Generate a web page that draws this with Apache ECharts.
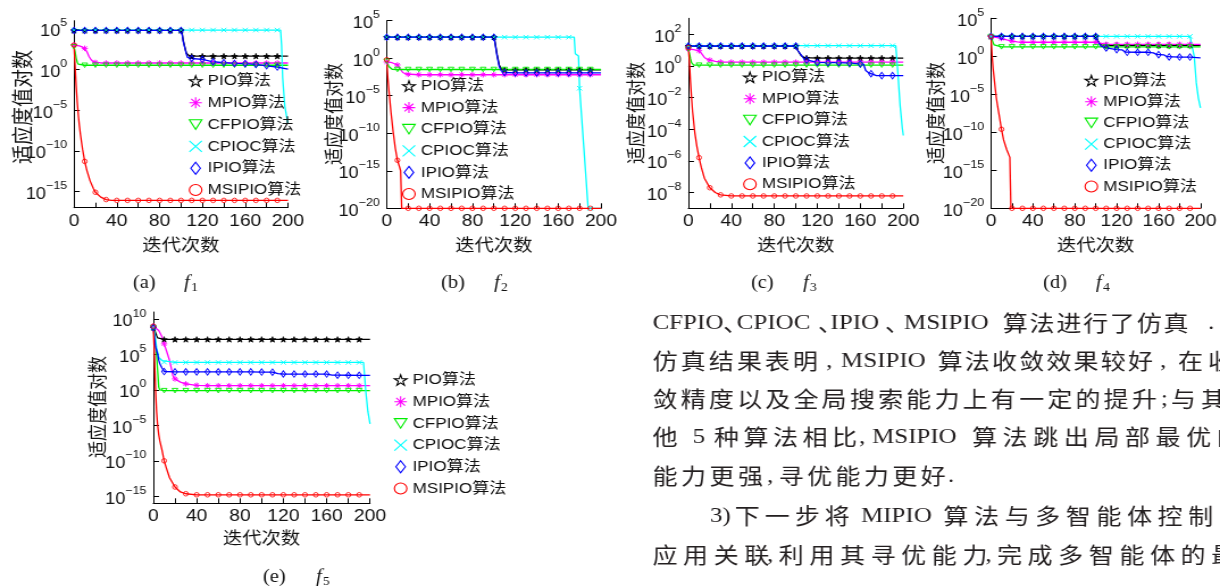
<!DOCTYPE html>
<html><head><meta charset="utf-8">
<script src="https://cdn.jsdelivr.net/npm/echarts@6.0.0/dist/echarts.min.js"></script>
<style>
html,body{margin:0;padding:0;background:#fff;overflow:hidden;width:1220px;height:587px}
#c{width:1074px;height:587px;transform:scaleX(1.13594);transform-origin:0 0}
</style>
</head><body><div id="c"></div>
<script>
// ---------------- data (values are log10 of the fitness) ----------------
const seriesNames = ['PIO算法','MPIO算法','CFPIO算法','CPIOC算法','IPIO算法','MSIPIO算法'];
const xAxisName = '迭代次数';
const yAxisName = '适应度值对数';
const captionLetters = ['(a)','(b)','(c)','(d)','(e)'];
const captionSubs = ['1','2','3','4','5'];

const yTicksA = [5,0,-5,-10,-15];
const yTicksB = [5,0,-5,-10,-15,-20];
const yTicksC = [2,0,-2,-4,-6,-8];
const yTicksD = [5,0,-5,-10,-15,-20];
const yTicksE = [10,5,0,-5,-10,-15];
const yRangeA = [-17,6];
const yRangeB = [-20,5];
const yRangeC = [-9,3];
const yRangeD = [-20,5];
const yRangeE = [-16,11];

// (a) f1
const a_PIO = [[0,4.8],[10,4.8],[20,4.8],[30,4.8],[40,4.8],[50,4.8],[60,4.8],[70,4.8],[80,4.8],[90,4.8],[100,4.8],[101,4.5],[102,3.6],[104,2.5],[105,2.0],[106,1.8],[108,1.65],[110,1.64],[120,1.64],[130,1.64],[140,1.64],[150,1.64],[160,1.64],[170,1.64],[180,1.64],[190,1.64],[200,1.64]];
const a_MPIO = [[0,3.0],[2,3.0],[5,2.9],[8,2.75],[10,2.6],[12,2.2],[14,1.6],[16,1.2],[18,0.95],[20,0.86],[25,0.8],[30,0.8],[40,0.8],[50,0.8],[60,0.8],[70,0.8],[80,0.8],[90,0.8],[100,0.8],[110,0.8],[120,0.8],[130,0.8],[140,0.8],[150,0.8],[160,0.8],[170,0.8],[180,0.8],[190,0.8],[200,0.8]];
const a_CFPIO = [[0,2.8],[1,2.2],[2,1.4],[3,0.9],[4,0.65],[5,0.55],[6,0.52],[10,0.52],[20,0.52],[30,0.52],[40,0.52],[50,0.52],[60,0.52],[70,0.52],[80,0.52],[90,0.52],[100,0.52],[110,0.52],[120,0.52],[130,0.52],[140,0.52],[150,0.52],[160,0.52],[170,0.52],[180,0.52],[190,0.52],[200,0.52]];
const a_CPIOC = [[0,4.85],[10,4.85],[20,4.85],[30,4.85],[40,4.85],[50,4.85],[60,4.85],[70,4.85],[80,4.85],[90,4.85],[100,4.85],[110,4.85],[120,4.85],[130,4.85],[140,4.85],[150,4.85],[160,4.85],[170,4.85],[180,4.85],[190,4.85],[193,4.85],[194,3.0],[195,-1.0],[197,-4.5],[199,-6.0],[200,-6.7]];
const a_IPIO = [[0,4.8],[10,4.8],[20,4.8],[30,4.8],[40,4.8],[50,4.8],[60,4.8],[70,4.8],[80,4.8],[90,4.8],[100,4.8],[101,4.4],[102,3.5],[104,2.4],[105,1.9],[106,1.5],[108,1.38],[110,1.35],[120,1.25],[130,0.95],[140,0.85],[150,0.75],[160,0.72],[170,0.62],[180,0.45],[190,0.3],[200,0.05]];
const a_MSIPIO = [[0,3.0],[1,0.5],[2,-2.0],[3,-4.0],[4,-5.6],[5,-6.9],[6,-8.0],[8,-9.8],[10,-11.3],[12,-12.4],[15,-13.7],[18,-14.6],[20,-15.1],[25,-15.7],[30,-16.0],[35,-16.1],[40,-16.1],[50,-16.1],[60,-16.1],[70,-16.1],[80,-16.1],[90,-16.1],[100,-16.1],[110,-16.1],[120,-16.1],[130,-16.1],[140,-16.1],[150,-16.1],[160,-16.1],[170,-16.1],[180,-16.1],[190,-16.1],[200,-16.1]];

// (b) f2
const b_PIO = [[0,2.8],[10,2.8],[20,2.8],[30,2.8],[40,2.8],[50,2.8],[60,2.8],[70,2.8],[80,2.8],[90,2.8],[100,2.8],[101,2.2],[103,0.5],[105,-0.9],[107,-1.45],[110,-1.55],[120,-1.55],[130,-1.55],[140,-1.55],[150,-1.55],[160,-1.55],[170,-1.55],[180,-1.55],[190,-1.55],[200,-1.55]];
const b_MPIO = [[0,-0.5],[5,-0.6],[10,-0.9],[12,-1.3],[15,-1.9],[18,-2.1],[20,-2.15],[30,-2.2],[40,-2.2],[50,-2.2],[60,-2.2],[70,-2.2],[80,-2.2],[90,-2.2],[100,-2.2],[110,-2.2],[120,-2.2],[130,-2.2],[140,-2.2],[150,-2.2],[160,-2.2],[170,-2.2],[180,-2.2],[190,-2.2],[200,-2.2]];
const b_CFPIO = [[0,-0.4],[1,-0.8],[2,-1.1],[3,-1.3],[5,-1.47],[10,-1.5],[20,-1.5],[30,-1.5],[40,-1.5],[50,-1.5],[60,-1.5],[70,-1.5],[80,-1.5],[90,-1.5],[100,-1.5],[110,-1.5],[120,-1.5],[130,-1.5],[140,-1.5],[150,-1.5],[160,-1.5],[170,-1.5],[180,-1.5],[190,-1.5],[200,-1.5]];
const b_CPIOC = [[0,2.8],[10,2.8],[20,2.8],[30,2.8],[40,2.8],[50,2.8],[60,2.8],[70,2.8],[80,2.8],[90,2.8],[100,2.8],[110,2.8],[120,2.8],[130,2.8],[140,2.8],[150,2.8],[160,2.8],[170,2.8],[175,2.8],[176,0.6],[178,0.45],[179,0.3],[180,-4.0],[182,-8.0],[184,-12.0],[186,-16.0],[188,-20],[190,-20],[200,-20]];
const b_IPIO = [[0,2.8],[10,2.8],[20,2.8],[30,2.8],[40,2.8],[50,2.8],[60,2.8],[70,2.8],[80,2.8],[90,2.8],[100,2.8],[101,2.1],[103,0.3],[105,-1.1],[107,-1.7],[110,-1.9],[120,-1.95],[130,-1.95],[140,-1.95],[150,-1.95],[160,-1.95],[170,-1.95],[180,-1.95],[190,-1.95],[200,-1.95]];
const b_MSIPIO = [[0,-0.2],[1,-2.5],[2,-4.2],[4,-7.2],[6,-9.8],[8,-12.0],[10,-13.6],[12,-14.5],[13,-15.0],[14,-20],[20,-20],[30,-20],[40,-20],[50,-20],[60,-20],[70,-20],[80,-20],[90,-20],[100,-20],[110,-20],[120,-20],[130,-20],[140,-20],[150,-20],[160,-20],[170,-20],[180,-20],[190,-20],[200,-20]];

// (c) f3
const c_PIO = [[0,1.25],[10,1.25],[20,1.25],[30,1.25],[40,1.25],[50,1.25],[60,1.25],[70,1.25],[80,1.25],[90,1.25],[100,1.25],[102,0.95],[105,0.64],[108,0.52],[110,0.49],[120,0.49],[130,0.49],[140,0.49],[150,0.49],[160,0.49],[170,0.49],[180,0.49],[190,0.49],[200,0.49]];
const c_MPIO = [[0,1.06],[5,1.02],[10,0.95],[12,0.8],[15,0.53],[18,0.4],[20,0.36],[25,0.28],[30,0.24],[40,0.23],[50,0.23],[60,0.23],[70,0.23],[80,0.23],[90,0.23],[100,0.23],[110,0.23],[120,0.23],[130,0.23],[140,0.23],[150,0.23],[160,0.23],[170,0.23],[180,0.23],[190,0.23],[200,0.23]];
const c_CFPIO = [[0,1.06],[1,0.8],[2,0.45],[3,0.2],[4,0.08],[5,0.04],[10,0.04],[20,0.04],[30,0.04],[40,0.04],[50,0.04],[60,0.04],[70,0.04],[80,0.04],[90,0.04],[100,0.04],[110,0.04],[120,0.04],[130,0.04],[140,0.04],[150,0.04],[160,0.04],[170,0.04],[180,0.04],[190,0.04],[200,0.04]];
const c_CPIOC = [[0,1.27],[10,1.27],[20,1.27],[30,1.27],[40,1.27],[50,1.27],[60,1.27],[70,1.27],[80,1.27],[90,1.27],[100,1.27],[110,1.27],[120,1.27],[130,1.27],[140,1.27],[150,1.27],[160,1.27],[170,1.27],[180,1.27],[190,1.27],[193,1.27],[195,-0.5],[197,-2.5],[199,-3.9],[200,-4.4]];
const c_IPIO = [[0,1.25],[10,1.25],[20,1.25],[30,1.25],[40,1.25],[50,1.25],[60,1.25],[70,1.25],[80,1.25],[90,1.25],[100,1.25],[102,0.95],[104,0.9],[106,0.6],[108,0.4],[110,0.36],[120,0.21],[130,0.2],[140,0.2],[150,0.17],[160,0.12],[163,0.1],[165,-0.3],[168,-0.45],[170,-0.5],[175,-0.62],[180,-0.62],[190,-0.62],[200,-0.62]];
const c_MSIPIO = [[0,1.15],[1,0.3],[2,-1.0],[3,-2.0],[4,-2.9],[6,-4.2],[8,-5.1],[10,-5.8],[12,-6.4],[15,-7.1],[20,-7.7],[25,-8.0],[30,-8.15],[40,-8.22],[50,-8.22],[60,-8.22],[70,-8.22],[80,-8.22],[90,-8.22],[100,-8.22],[110,-8.22],[120,-8.22],[130,-8.22],[140,-8.22],[150,-8.22],[160,-8.22],[170,-8.22],[180,-8.22],[190,-8.22],[200,-8.22]];

// (d) f4
const d_PIO = [[0,2.62],[10,2.62],[20,2.62],[30,2.62],[40,2.62],[50,2.62],[60,2.62],[70,2.62],[80,2.62],[90,2.62],[100,2.62],[101,2.3],[103,1.8],[105,1.5],[110,1.45],[120,1.45],[130,1.45],[140,1.45],[150,1.45],[160,1.45],[170,1.45],[180,1.45],[190,1.45],[200,1.45]];
const d_MPIO = [[0,2.6],[5,2.5],[10,2.34],[15,2.15],[20,2.0],[25,1.9],[30,1.85],[40,1.85],[50,1.85],[60,1.85],[70,1.85],[80,1.85],[90,1.85],[100,1.85],[102,1.6],[110,1.58],[120,1.58],[130,1.58],[140,1.58],[150,1.58],[160,1.58],[170,1.58],[180,1.58],[190,1.58],[200,1.58]];
const d_CFPIO = [[0,2.6],[1,2.2],[2,1.8],[3,1.5],[4,1.3],[5,1.25],[10,1.24],[20,1.24],[30,1.24],[40,1.24],[50,1.24],[60,1.24],[70,1.24],[80,1.24],[90,1.24],[100,1.24],[110,1.24],[120,1.24],[130,1.24],[140,1.24],[150,1.24],[160,1.24],[170,1.24],[180,1.24],[190,1.24],[200,1.24]];
const d_CPIOC = [[0,2.62],[10,2.62],[20,2.62],[30,2.62],[40,2.62],[50,2.62],[60,2.62],[70,2.62],[80,2.62],[90,2.62],[100,2.62],[110,2.62],[120,2.62],[130,2.62],[140,2.62],[150,2.62],[160,2.62],[170,2.62],[180,2.62],[190,2.62],[192,2.62],[194,0.0],[196,-3.5],[198,-5.5],[200,-6.8]];
const d_IPIO = [[0,2.62],[10,2.62],[20,2.62],[30,2.62],[40,2.62],[50,2.62],[60,2.62],[70,2.62],[80,2.62],[90,2.62],[100,2.62],[101,2.3],[103,1.7],[105,1.35],[110,1.1],[120,0.88],[125,0.85],[128,0.55],[130,0.53],[140,0.53],[150,0.53],[155,0.45],[158,0.25],[160,0.22],[165,0.2],[168,-0.05],[170,-0.08],[180,-0.1],[190,-0.1],[200,-0.2]];
const d_MSIPIO = [[0,2.6],[1,0.2],[2,-1.6],[3,-2.9],[4,-4.2],[5,-5.4],[6,-6.3],[8,-7.9],[10,-9.6],[12,-11.0],[15,-12.3],[18,-13.3],[19,-20],[20,-20],[30,-20],[40,-20],[50,-20],[60,-20],[70,-20],[80,-20],[90,-20],[100,-20],[110,-20],[120,-20],[130,-20],[140,-20],[150,-20],[160,-20],[170,-20],[180,-20],[190,-20],[200,-20]];

// (e) f5
const e_PIO = [[0,8.8],[1,8.5],[2,8.1],[3,7.7],[4,7.35],[5,7.2],[6,7.13],[10,7.13],[20,7.13],[30,7.13],[40,7.13],[50,7.13],[60,7.13],[70,7.13],[80,7.13],[90,7.13],[100,7.13],[110,7.13],[120,7.13],[130,7.13],[140,7.13],[150,7.13],[160,7.13],[170,7.13],[180,7.13],[190,7.13],[200,7.13]];
const e_MPIO = [[0,9.0],[2,9.0],[5,8.4],[8,7.5],[10,6.5],[12,5.6],[15,4.15],[17,2.8],[18,2.0],[20,1.56],[25,1.1],[30,0.85],[40,0.65],[50,0.6],[60,0.6],[70,0.6],[80,0.6],[90,0.6],[100,0.6],[110,0.6],[120,0.6],[130,0.6],[140,0.6],[150,0.6],[160,0.6],[170,0.6],[180,0.6],[190,0.6],[200,0.6]];
const e_CFPIO = [[0,8.8],[1,8.0],[2,6.5],[3,5.0],[4,2.7],[5,0.4],[6,0.0],[8,-0.1],[10,-0.1],[20,-0.1],[30,-0.1],[40,-0.1],[50,-0.1],[60,-0.1],[70,-0.1],[80,-0.1],[90,-0.1],[100,-0.1],[110,-0.1],[120,-0.1],[130,-0.1],[140,-0.1],[150,-0.1],[160,-0.1],[170,-0.1],[180,-0.1],[190,-0.1],[200,-0.1]];
const e_CPIOC = [[0,8.8],[1,8.2],[2,7.2],[3,6.0],[5,4.6],[8,4.15],[10,3.93],[20,3.88],[30,3.88],[40,3.88],[50,3.88],[60,3.88],[70,3.88],[80,3.88],[90,3.88],[100,3.88],[110,3.88],[120,3.88],[130,3.88],[140,3.88],[150,3.88],[160,3.88],[170,3.88],[180,3.88],[190,3.88],[194,3.88],[195,2.0],[196,0.0],[198,-3.0],[200,-4.8]];
const e_IPIO = [[0,8.8],[1,7.5],[2,6.1],[4,5.1],[5,4.2],[6,3.7],[8,3.1],[10,2.6],[20,2.55],[30,2.55],[40,2.55],[50,2.55],[60,2.55],[70,2.55],[80,2.55],[90,2.55],[100,2.52],[110,2.5],[115,2.3],[120,2.25],[130,2.24],[140,2.24],[150,2.24],[160,2.24],[165,2.1],[170,2.08],[180,2.07],[190,2.06],[200,2.06]];
const e_MSIPIO = [[0,9.0],[1,5.1],[2,0.4],[3,-3.0],[4,-5.0],[5,-6.3],[6,-7.2],[8,-8.5],[10,-10.0],[12,-11.0],[15,-12.4],[20,-13.7],[25,-14.4],[30,-14.65],[40,-14.8],[50,-14.8],[60,-14.8],[70,-14.8],[80,-14.8],[90,-14.8],[100,-14.8],[110,-14.8],[120,-14.8],[130,-14.8],[140,-14.8],[150,-14.8],[160,-14.8],[170,-14.8],[180,-14.8],[190,-14.8],[200,-14.8]];

// paragraph text (runs) to the right of subplot (e)
const paraLines = [
  [['CFPIO',652.5],['、',723],['CPIOC',736.7],['、',818],['IPIO',830.5],['、',885],['MSIPIO',904],['算法进行了仿真',1002.7,26.8],['.',1208]],
  [['仿真结果表明',652.5,28.1],[',',826],['MSIPIO',841],['算法收敛效果较好',937.6,27.2],[',',1160],['在收',1178,30]],
  [['敛精度以及全局搜索能力上有一定的提升',652.5,28.2],[';',1161],['与其',1171,30]],
  [['他',652.5],['5',692.7],['种算法相比',713.8,29.6],[',',859],['MSIPIO',872],['算法跳出局部最优的',972,30.6]],
  [['能力更强',652.5,28.5],[',',767],['寻优能力更好',778.8,28.4],['.',948]],
  [['3)',710],['下一步将',734.8,30],['MIPIO',861],['算法与多智能体控制的',943.4,30.6]],
  [['应用关联',652.5,30.6],[',',767],['利用其寻优能力',778.8,30.6],[',',985.5],['完成多智能体的最',997,30.6]]
];
const paraY = [323,361,399,437,476,516,555];

// ---------------- layout & style ----------------
const SX = 1220 / 1074;           // the figure is horizontally stretched
const X = v => v / SX;
const LATIN = '"Liberation Sans", Arial, sans-serif';
const CJK = '"Noto Sans CJK SC", sans-serif';
const MIXED = '"Liberation Sans", "Noto Sans CJK SC", sans-serif';
const SERIF = '"Liberation Serif", "Times New Roman", serif';

const COLORS = ['#000000','#ff00ff','#00ee00','#00ffff','#0000ff','#ff0000'];
const FILLS = ['#000000','rgba(0,0,0,0)','rgba(0,0,0,0)','rgba(0,0,0,0)','rgba(0,0,0,0)','rgba(0,0,0,0)'];
const SYMBOLS = [
  'path://M50,0L61,35L98,35L68,57L79,91L50,70L21,91L32,57L2,35L39,35Z',
  'path://M50,0L50,100M0,50L100,50M15,15L85,85M85,15L15,85',
  'path://M0,0L100,0L50,87Z',
  'path://M0,0L100,100M100,0L0,100',
  'path://M35,0L70,50L35,100L0,50Z',
  'circle'
];
const SIZES = [[5.5,5.5],[5.5,5.5],[5,4.5],[4.5,4.5],[4.4,6.5],[4.2,4.6]];
const BORDERS = [0.8,1,0.9,0.9,0.9,0.8];

const panels = [
  {data:[a_PIO,a_MPIO,a_CFPIO,a_CPIOC,a_IPIO,a_MSIPIO], ticks:yTicksA, range:yRangeA,
   box:[74,20.7,288,207.7], leg:{icon:195,text:211.7,top:81,pitch:21.8},
   yName:{x:22,y:107,size:19}, xNameGap:28, cap:{lx:133,fx:184,y:283}},
  {data:[b_PIO,b_MPIO,b_CFPIO,b_CPIOC,b_IPIO,b_MSIPIO], ticks:yTicksB, range:yRangeB,
   box:[386.7,20.7,601,208.3], leg:{icon:408.3,text:426.7,top:86,pitch:21.6},
   yName:{x:333,y:114,size:17}, xNameGap:28, cap:{lx:441,fx:494,y:283}},
  {data:[c_PIO,c_MPIO,c_CFPIO,c_CPIOC,c_IPIO,c_MSIPIO], ticks:yTicksC, range:yRangeC,
   box:[688.3,18.3,903.3,208.3], leg:{icon:749.3,text:766.7,top:77.3,pitch:21.4},
   yName:{x:635.5,y:113,size:17}, xNameGap:28, cap:{lx:751,fx:803,y:283}},
  {data:[d_PIO,d_MPIO,d_CFPIO,d_CPIOC,d_IPIO,d_MSIPIO], ticks:yTicksD, range:yRangeD,
   box:[991,18.3,1206.7,208.3], leg:{icon:1090.7,text:1109.3,top:80.5,pitch:21.2},
   yName:{x:935.5,y:113,size:17}, xNameGap:28, cap:{lx:1043,fx:1096,y:283}},
  {data:[e_PIO,e_MPIO,e_CFPIO,e_CPIOC,e_IPIO,e_MSIPIO], ticks:yTicksE, range:yRangeE,
   box:[153.3,312,370,503.3], leg:{icon:400,text:416.7,top:380,pitch:21.7},
   yName:{x:97,y:407,size:17}, xNameGap:26, cap:{lx:263,fx:316,y:577}}
];

const supText = v => (v < 0 ? '\u2212' + (-v) : String(v));
const grids = [], xAxes = [], yAxes = [], series = [], legends = [], graphics = [];
const LEG_W = 11, LEG_H = 12, LEG_FS = 15;

panels.forEach((p, i) => {
  const [x0, y0, x1, y1] = p.box;
  grids.push({left: X(x0), top: y0, width: X(x1) - X(x0), height: y1 - y0, containLabel: false});
  xAxes.push({
    type: 'value', gridIndex: i, min: 0, max: 200, interval: 20,
    axisLine: {onZero: false, lineStyle: {color: '#000', width: 1}},
    axisTick: {inside: true, length: 5, lineStyle: {color: '#000', width: 1}},
    axisLabel: {fontSize: 17, fontFamily: LATIN, color: '#111', margin: 5,
      formatter: v => (v % 40 === 0 ? String(v) : '')},
    splitLine: {show: false},
    name: xAxisName, nameLocation: 'middle', nameGap: p.xNameGap,
    nameTextStyle: {fontSize: 17, fontFamily: CJK, color: '#111'}
  });
  yAxes.push({
    type: 'value', gridIndex: i, min: p.range[0], max: p.range[1],
    axisLine: {onZero: false, lineStyle: {color: '#000', width: 1}},
    axisTick: {inside: true, length: 5, customValues: p.ticks, lineStyle: {color: '#000', width: 1}},
    axisLabel: {customValues: p.ticks, margin: 6,
      formatter: v => '{b|10}{s|' + supText(v) + '}',
      rich: {
        b: {fontSize: 16, lineHeight: 22, verticalAlign: 'bottom', fontFamily: LATIN, color: '#111'},
        s: {fontSize: 11, lineHeight: 11, verticalAlign: 'top', fontFamily: LATIN, color: '#111'}
      }},
    splitLine: {show: false}
  });
  p.data.forEach((d, k) => {
    series.push({
      type: 'line', name: seriesNames[k], xAxisIndex: i, yAxisIndex: i, data: d,
      symbol: v => (v[0] % 10 === 0 && v[0] < 200) ? SYMBOLS[k] : 'none',
      symbolSize: SIZES[k], showSymbol: true, showAllSymbol: true,
      lineStyle: {color: COLORS[k], width: 1.3},
      itemStyle: {color: FILLS[k], borderColor: COLORS[k], borderWidth: BORDERS[k]},
      emphasis: {disabled: true}, silent: true, animation: false
    });
  });
  const L = p.leg;
  legends.push({
    orient: 'vertical', left: X(L.icon) - LEG_W / 2, top: L.top - LEG_FS / 2, padding: 0,
    itemWidth: LEG_W, itemHeight: LEG_H, itemGap: L.pitch - LEG_FS,
    itemTextGap: X(L.text) - X(L.icon) - LEG_W / 2 - 1,
    selectedMode: false, symbolKeepAspect: true,
    textStyle: {fontSize: LEG_FS, fontFamily: MIXED, color: '#111'},
    data: seriesNames.map((n, k) => ({
      name: n, icon: SYMBOLS[k],
      itemStyle: {color: 'rgba(0,0,0,0)', borderColor: COLORS[k], borderWidth: 1.1}
    }))
  });
  graphics.push({type: 'text', x: X(p.yName.x), y: p.yName.y, rotation: Math.PI / 2, silent: true,
    style: {text: yAxisName, fontSize: p.yName.size, fontFamily: CJK, fill: '#111', align: 'center', verticalAlign: 'middle'}});
  graphics.push({type: 'text', x: X(p.cap.lx), y: p.cap.y, silent: true,
    style: {text: captionLetters[i], fontSize: 18, fontFamily: SERIF, fill: '#111', align: 'left', verticalAlign: 'middle'}});
  graphics.push({type: 'text', x: X(p.cap.fx), y: p.cap.y, silent: true,
    style: {text: 'f', fontSize: 18, fontStyle: 'italic', fontFamily: SERIF, fill: '#111', align: 'left', verticalAlign: 'middle'}});
  graphics.push({type: 'text', x: X(p.cap.fx + 7), y: p.cap.y + 5, silent: true,
    style: {text: captionSubs[i], fontSize: 12, fontFamily: SERIF, fill: '#111', align: 'left', verticalAlign: 'middle'}});
});

// paragraph
const isCJK = s => /[\u3000-\u9fff\uff00-\uffef]/.test(s);
paraLines.forEach((runs, li) => {
  runs.forEach(run => {
    const [txt, x, pitch] = run;
    const font = isCJK(txt) ? CJK : SERIF;
    if (pitch) {
      Array.from(txt).forEach((ch, j) => {
        graphics.push({type: 'text', x: X(x + j * pitch), y: paraY[li], silent: true,
          style: {text: ch, fontSize: 22, fontFamily: font, fill: '#231f20', align: 'left', verticalAlign: 'middle'}});
      });
    } else {
      graphics.push({type: 'text', x: X(x), y: paraY[li], silent: true,
        style: {text: txt, fontSize: 22, fontFamily: font, fill: '#231f20', align: 'left', verticalAlign: 'middle'}});
    }
  });
});

const chart = echarts.init(document.getElementById('c'), null, {renderer: 'canvas'});
chart.setOption({
  backgroundColor: '#ffffff',
  animation: false,
  grid: grids, xAxis: xAxes, yAxis: yAxes, series: series, legend: legends,
  graphic: {elements: graphics}
});
</script>
</body></html>
